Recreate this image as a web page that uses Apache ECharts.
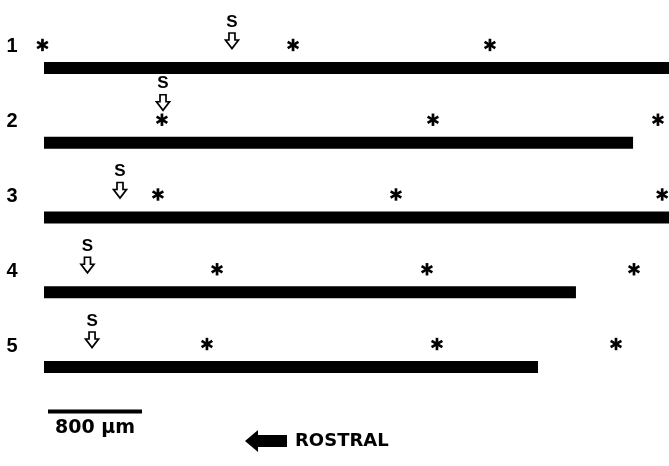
<!DOCTYPE html>
<html>
<head>
<meta charset="utf-8">
<script src="https://cdn.jsdelivr.net/npm/echarts@6/dist/echarts.min.js"></script>
<style>
html,body{margin:0;padding:0;background:#fff;}
#main{width:669px;height:466px;}
</style>
</head>
<body>
<div id="main"></div>
<script>
// ---- data (micrometres along each fibre, 0 = left end) ----
const rowLabels = ['1', '2', '3', '4', '5'];
const fiberLengthUm = [5400, 5014, 5400, 4528, 4205];
const asterisksRow1 = [-13, 2120, 3796];
const asterisksRow2 = [1004, 3311, 5226];
const asterisksRow3 = [970, 2996, 5262];
const asterisksRow4 = [1473, 3260, 5022];
const asterisksRow5 = [1387, 3345, 4869];
const stimSiteUm = [1600, 1013, 647, 370, 409];
const scaleBarUm = 800;
const scaleBarLabel = '800 μm';
const directionLabel = 'ROSTRAL';

const asteriskRows = [asterisksRow1, asterisksRow2, asterisksRow3, asterisksRow4, asterisksRow5];

const fiberData = rowLabels.map((r, i) => [i + 1, fiberLengthUm[i]]);
const asteriskData = [];
asteriskRows.forEach((arr, i) => arr.forEach(x => asteriskData.push([x, i + 1])));
const stimData = stimSiteUm.map((x, i) => {
  const near = asteriskRows[i].some(a => Math.abs(a - x) < 150) ? 1 : 0;
  return [x, i + 1, near];
});
const labelData = rowLabels.map((r, i) => [0, i + 1]);

const chart = echarts.init(document.getElementById('main'), null, {renderer: 'canvas'});

const option = {
  animation: false,
  backgroundColor: '#ffffff',
  grid: {left: 44, right: 0, top: 30.6, bottom: 61.6},
  xAxis: {type: 'value', min: 0, max: 5320, show: false},
  yAxis: {type: 'value', min: 0.5, max: 5.5, inverse: true, show: false},
  series: [
    {
      name: 'fibres', type: 'custom', clip: false,
      data: fiberData,
      renderItem: function (params, api) {
        const row = api.value(0), len = api.value(1);
        const p0 = api.coord([0, row]);
        const p1 = api.coord([len, row]);
        return {type: 'rect', shape: {x: p0[0], y: p0[1] - 6, width: p1[0] - p0[0], height: 12}, style: {fill: '#000'}};
      }
    },
    {
      name: 'labels', type: 'custom', clip: false,
      data: labelData,
      renderItem: function (params, api) {
        const p = api.coord([api.value(0), api.value(1)]);
        return {type: 'text', x: p[0] - 32, y: p[1] - 21,
          style: {text: rowLabels[params.dataIndex], font: 'bold 20px "Liberation Sans"', fill: '#000', align: 'center', verticalAlign: 'middle'}};
      }
    },
    {
      name: 'asterisks', type: 'custom', clip: false,
      data: asteriskData,
      renderItem: function (params, api) {
        const p = api.coord([api.value(0), api.value(1)]);
        const cx = p[0], cy = p[1] - 23, r = 6.2;
        const children = [90, 30, 150].map(a => {
          const dx = r * Math.cos(a * Math.PI / 180), dy = r * Math.sin(a * Math.PI / 180);
          return {type: 'line', shape: {x1: cx - dx, y1: cy - dy, x2: cx + dx, y2: cy + dy}, style: {stroke: '#000', lineWidth: 2.7}};
        });
        return {type: 'group', children: children};
      }
    },
    {
      name: 'stimulus', type: 'custom', clip: false,
      data: stimData,
      renderItem: function (params, api) {
        const p = api.coord([api.value(0), api.value(1)]);
        const raised = api.value(2) ? 13 : 0;
        const cx = p[0], cy = p[1] - 27 - raised;
        const pts = [[cx - 3, cy - 8], [cx + 3, cy - 8], [cx + 3, cy - 1], [cx + 6.5, cy - 1], [cx, cy + 7.5], [cx - 6.5, cy - 1], [cx - 3, cy - 1]];
        return {type: 'group', children: [
          {type: 'polygon', shape: {points: pts}, style: {fill: '#fff', stroke: '#000', lineWidth: 1.7}},
          {type: 'text', x: cx, y: cy - 19, style: {text: 'S', font: 'bold 17px "Liberation Sans"', fill: '#000', align: 'center', verticalAlign: 'middle'}}
        ]};
      }
    },
    {
      name: 'scale', type: 'custom', clip: false,
      data: [[scaleBarUm, 5.5]],
      renderItem: function (params, api) {
        const start = 34;
        const p0 = api.coord([start, api.value(1)]);
        const p1 = api.coord([start + api.value(0), api.value(1)]);
        const y = p0[1] + 7;
        return {type: 'group', children: [
          {type: 'rect', shape: {x: p0[0], y: y - 2, width: p1[0] - p0[0], height: 4}, style: {fill: '#000'}},
          {type: 'text', x: (p0[0] + p1[0]) / 2, y: y + 17, style: {text: scaleBarLabel, font: 'bold 19px "DejaVu Sans"', fill: '#000', align: 'center', verticalAlign: 'middle'}}
        ]};
      }
    }
  ],
  graphic: [
    {type: 'polygon', shape: {points: [[245, 441], [258, 430], [258, 435], [287, 435], [287, 447], [258, 447], [258, 452]]}, style: {fill: '#000'}},
    {type: 'text', x: 295, y: 441, style: {text: directionLabel, font: 'bold 18px "DejaVu Sans"', fill: '#000', textAlign: 'left', textVerticalAlign: 'middle', align: 'left', verticalAlign: 'middle'}}
  ]
};
chart.setOption(option);
</script>
</body>
</html>
